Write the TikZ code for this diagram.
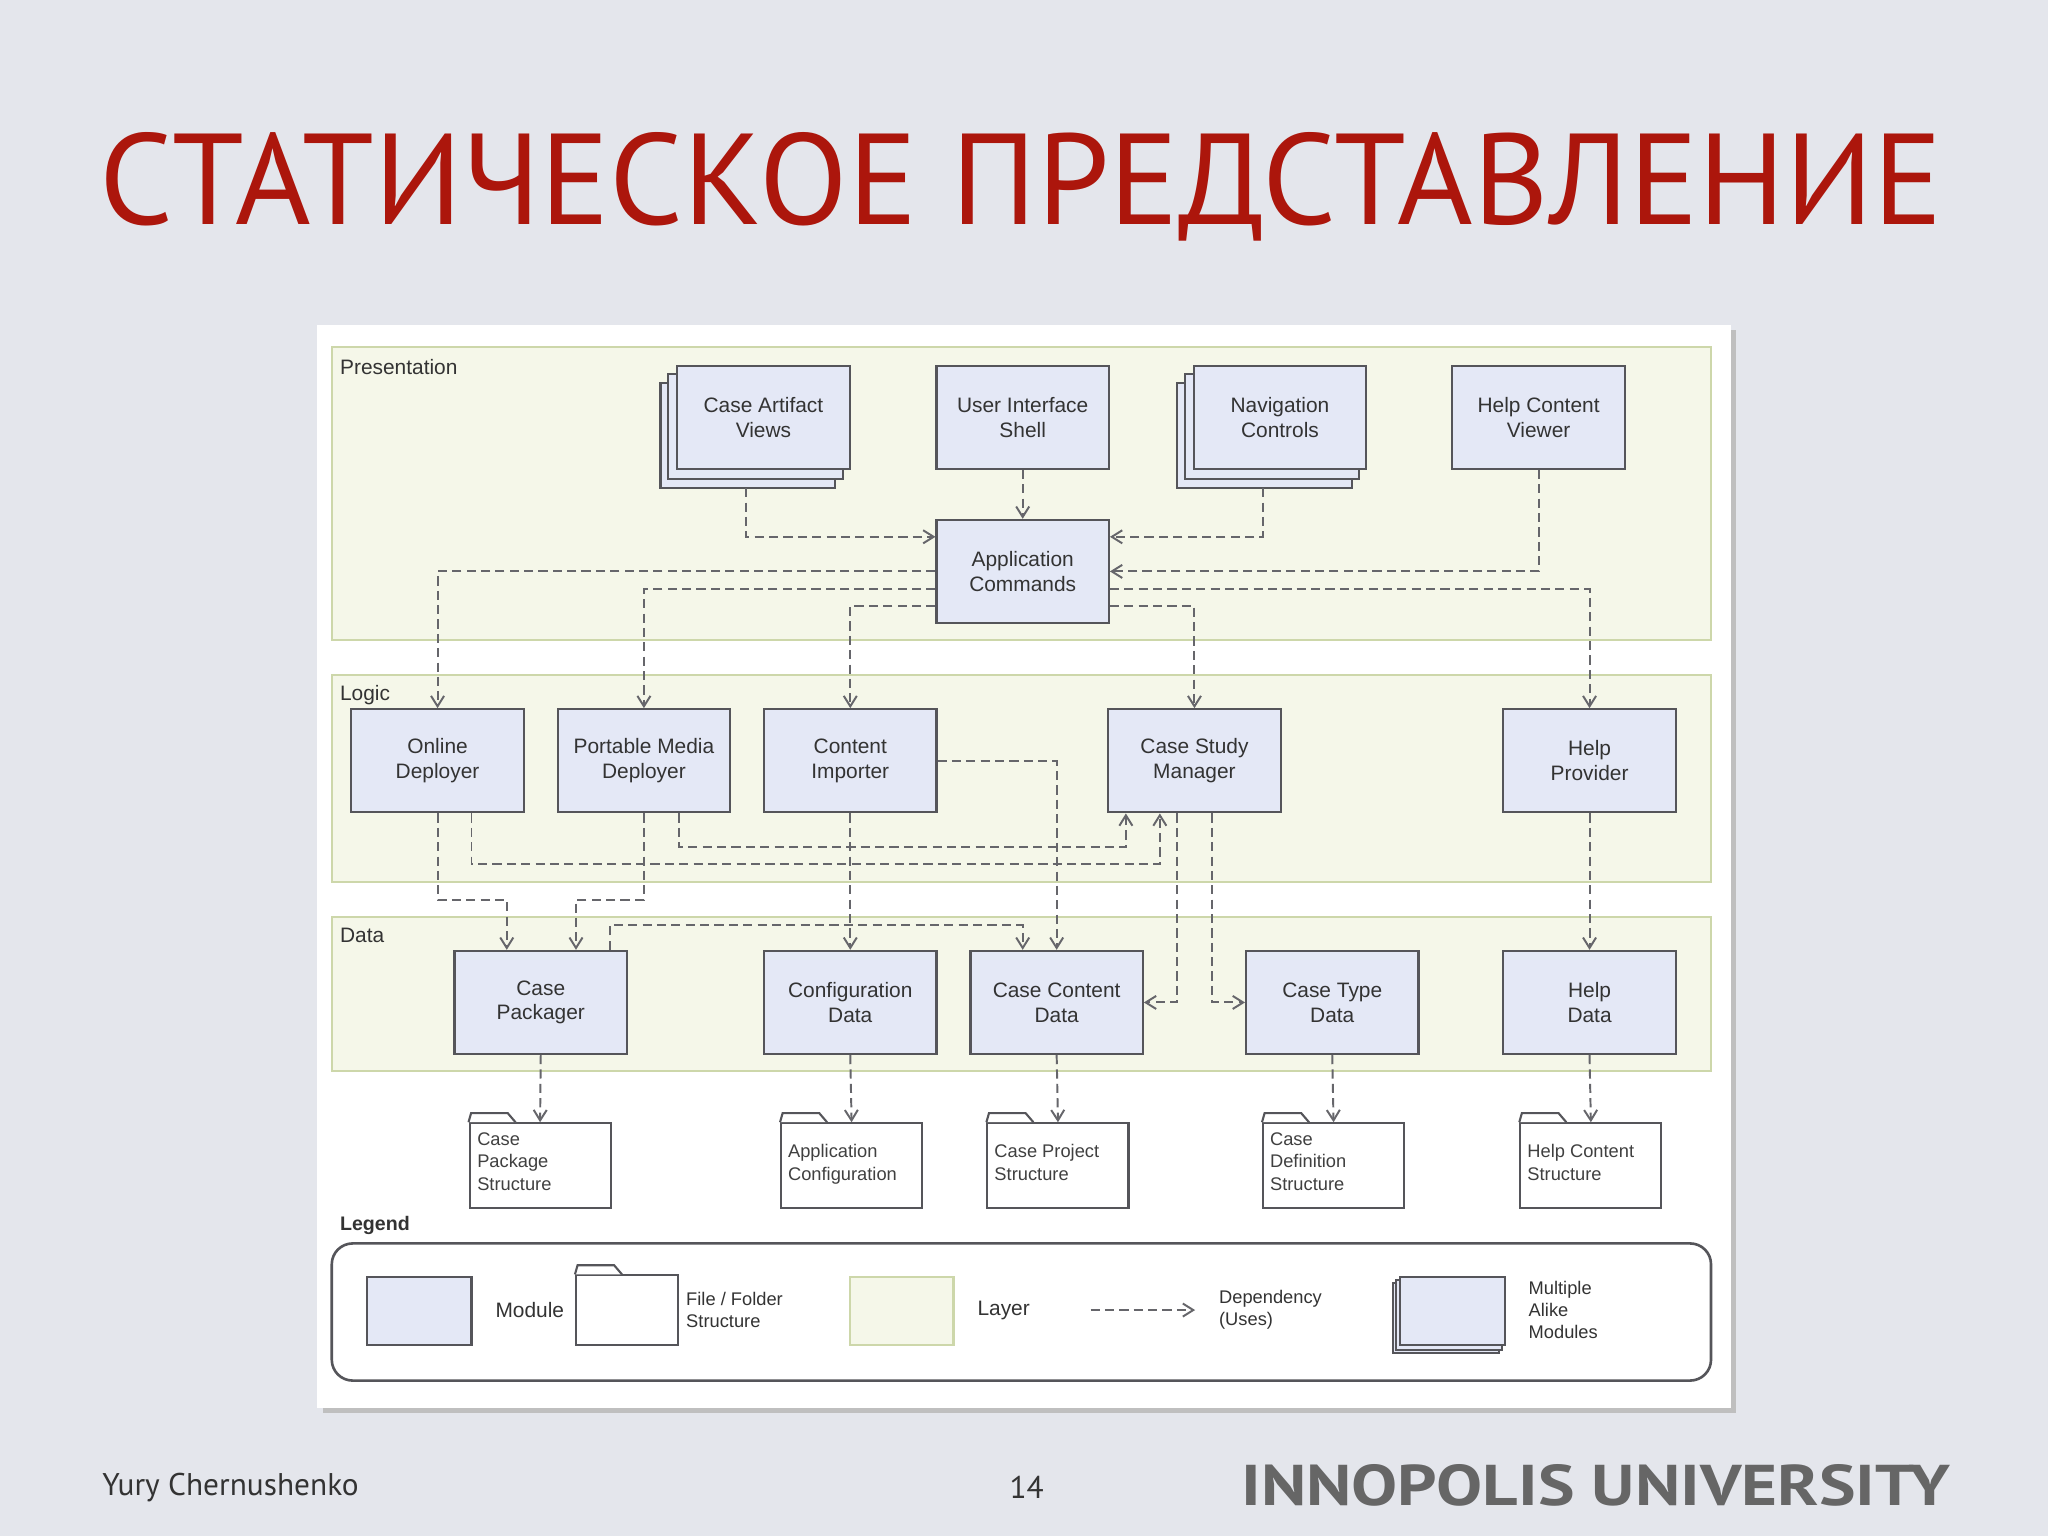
\documentclass[tikz,border=0pt]{standalone}
\usepackage{fontspec}
\setmainfont{Liberation Sans}
\newfontfamily\titlefont{PT Sans}
\usetikzlibrary{arrows.meta,calc}
\definecolor{bg}{RGB}{228,230,236}
\definecolor{modfill}{RGB}{228,232,246}
\definecolor{layfill}{RGB}{245,247,233}
\definecolor{laydraw}{RGB}{205,215,170}
\definecolor{ttl}{RGB}{172,22,12}
\definecolor{edge}{RGB}{85,85,90}
\tikzset{
  module/.style={draw=edge,line width=0.8pt,fill=modfill,minimum width=66pt,minimum height=39.5pt,align=center,font=\fontsize{8}{9.5}\selectfont,text=black!80,inner sep=1pt},
  layer/.style={draw=laydraw,line width=0.8pt,fill=layfill},
  dep/.style={draw=edge!90,line width=0.75pt,dash pattern=on 3.5pt off 2pt,-{Straight Barb[length=4pt,width=5pt]}},
  fold/.style={draw=edge,line width=0.8pt,fill=white,minimum width=54pt,minimum height=32.5pt,inner sep=0pt},
  ftxt/.style={align=left,font=\fontsize{7}{8.5}\selectfont,text=black!75,inner sep=0pt,anchor=north west},
  lbl/.style={font=\fontsize{8}{9}\selectfont,text=black!80,anchor=west,inner sep=0pt}
}
\newcommand{\stackbehind}[1]{%
  \draw[edge,line width=0.8pt,fill=modfill] ([shift={(-6pt,-7pt)}]#1.south west) rectangle ([shift={(-6pt,-7pt)}]#1.north east);
  \draw[edge,line width=0.8pt,fill=modfill] ([shift={(-3pt,-3.5pt)}]#1.south west) rectangle ([shift={(-3pt,-3.5pt)}]#1.north east);}
\newcommand{\stacksmall}[1]{%
  \draw[edge,line width=0.8pt,fill=modfill] ([shift={(-2.5pt,-2.5pt)}]#1.south west) rectangle ([shift={(-2.5pt,-2.5pt)}]#1.north east);
  \draw[edge,line width=0.8pt,fill=modfill] ([shift={(-1.25pt,-1.25pt)}]#1.south west) rectangle ([shift={(-1.25pt,-1.25pt)}]#1.north east);}
\newcommand{\foldtab}[1]{%
  \draw[edge,line width=0.8pt,fill=white] (#1.north west) -- ++(1pt,3.5pt) -- ++(14pt,0) -- ++(3pt,-3.5pt);}
\begin{document}
\begin{tikzpicture}[x=0.5pt,y=-0.5pt]
\useasboundingbox (0,0) rectangle (1568,1176);
\fill[bg] (0,0) rectangle (1568,1176);
\node[anchor=west,text=ttl,inner sep=0pt,font=\titlefont\fontsize{49.5}{52}\selectfont] (title) at (76,143) {СТАТИЧЕСКОЕ ПРЕДСТАВЛЕНИЕ};
% panel
\fill[black!25] (247,253) rectangle (1329,1082);
\fill[white] (243,249) rectangle (1325,1078);
% layers
\draw[layer] (254,266) rectangle (1310,490);
\draw[layer] (254,517) rectangle (1310,675);
\draw[layer] (254,702) rectangle (1310,820);
\node[lbl] (lp) at (260,281) {Presentation};
\node[lbl] (ll) at (260,532) {Logic};
\node[lbl] (ld) at (260,716) {Data};
% presentation
\node[module] (cav) at (584.5,319.5) {};
\stackbehind{cav}
\node[module] (cav) at (584.5,319.5) {Case Artifact\\Views};
\node[module] (ui) at (783,319.5) {User Interface\\Shell};
\node[module] (nav) at (980,319.5) {};
\stackbehind{nav}
\node[module] (nav) at (980,319.5) {Navigation\\Controls};
\node[module] (hcv) at (1178,319.5) {Help Content\\Viewer};
\node[module] (app) at (783,437.5) {Application\\Commands};
% logic
\node[module] (od) at (335,582.5) {Online\\Deployer};
\node[module] (pmd) at (493,582.5) {Portable Media\\Deployer};
\node[module] (ci) at (651,582.5) {Content\\Importer};
\node[module] (csm) at (914.5,582.5) {Case Study\\Manager};
\node[module] (hp) at (1217,582.5) {Help\\Provider};
% data
\node[module] (cp) at (414,767.5) {Case\\Packager};
\node[module] (cd) at (651,767.5) {Configuration\\Data};
\node[module] (ccd) at (809,767.5) {Case Content\\Data};
\node[module] (ctd) at (1020,767.5) {Case Type\\Data};
\node[module] (hd) at (1217,767.5) {Help\\Data};
% folders
\foreach \n/\x in {f1/413.5,f2/652,f3/810,f4/1021,f5/1218}{
  \node[fold] (\n) at (\x,892.5) {};
  \foldtab{\n}
}
\node[ftxt] (t1) at (365,867) {Case\\Package\\Structure};
\node[ftxt] (t2) at (603,876) {Application\\Configuration};
\node[ftxt] (t3) at (761,876) {Case Project\\Structure};
\node[ftxt] (t4) at (972,867) {Case\\Definition\\Structure};
\node[ftxt] (t5) at (1169,876) {Help Content\\Structure};
% connectors
\draw[dep] ([xshift=-6.75pt,yshift=-7pt]cav.south) |- ([yshift=13.25pt]app.west);
\draw[dep] (ui.south) -- (app.north);
\draw[dep] ([xshift=-6.5pt,yshift=-7pt]nav.south) |- ([yshift=13.25pt]app.east);
\draw[dep] (hcv.south) |- (app.east);
\draw[dep] (app.west) -| (od.north);
\draw[dep] ([yshift=-6.75pt]app.west) -| (pmd.north);
\draw[dep] ([yshift=-13.25pt]app.west) -| (ci.north);
\draw[dep] ([yshift=-13.25pt]app.east) -| (csm.north);
\draw[dep] ([yshift=-6.75pt]app.east) -| (hp.north);
\draw[dep] (ci.east) -| (ccd.north);
\draw[dep] ([xshift=13.5pt]pmd.south) -- ++(0,-13pt) -| ([xshift=-26.25pt]csm.south);
\draw[dep] ([xshift=13pt]od.south) -- ++(0,-19.5pt) -| ([xshift=-13.25pt]csm.south);
\draw[dep] (od.south) -- ++(0,-33pt) -| ([xshift=-13pt]cp.north);
\draw[dep] (pmd.south) -- ++(0,-33pt) -| ([xshift=13.5pt]cp.north);
\draw[dep] (ci.south) -- (cd.north);
\draw[dep] ([xshift=26.5pt]cp.north) -- ++(0,9.5pt) -| ([xshift=-13pt]ccd.north);
\draw[dep] ([xshift=-6.75pt]csm.south) |- (ccd.east);
\draw[dep] ([xshift=6.75pt]csm.south) |- (ctd.west);
\draw[dep] (hp.south) -- (hd.north);
\draw[dep] (cp.south) -- (f1.north);
\draw[dep] (cd.south) -- (f2.north);
\draw[dep] (ccd.south) -- (f3.north);
\draw[dep] (ctd.south) -- (f4.north);
\draw[dep] (hd.south) -- (f5.north);
% legend
\node[lbl,font=\bfseries\fontsize{7.5}{9}\selectfont] (lg) at (260,938) {Legend};
\draw[edge,line width=1pt,rounded corners=8pt] (254,952) rectangle (1310,1057);
\node[module,minimum width=40pt,minimum height=26pt] (lm) at (321,1004) {};
\node[lbl] (lmt) at (379,1003) {Module};
\node[fold,minimum width=39pt,minimum height=26.5pt] (lf) at (480,1003) {};
\foldtab{lf}
\node[lbl,align=left,font=\fontsize{7}{8.5}\selectfont] (lft) at (525,1003) {File / Folder\\Structure};
\draw[layer] (651,978) rectangle (730,1030);
\node[lbl] (lyt) at (748,1003) {Layer};
\coordinate (da) at (835,1003);
\coordinate (db) at (915,1003);
\draw[dep] (da) -- (db);
\node[lbl,align=left,font=\fontsize{7}{8.5}\selectfont] (ldt) at (933,1003) {Dependency\\(Uses)};
\node[module,minimum width=40pt,minimum height=26pt] (lmm) at (1112,1004) {};
\stacksmall{lmm}
\node[module,minimum width=40pt,minimum height=26pt] (lmm) at (1112,1004) {};
\node[lbl,align=left,font=\fontsize{7}{8.5}\selectfont] (lmmt) at (1170,1003) {Multiple\\Alike\\Modules};
% footer
\node[anchor=west,inner sep=0pt,text=black!80,font=\titlefont\fontsize{12}{14}\selectfont] (auth) at (78,1139) {Yury Chernushenko};
\node[inner sep=0pt,text=black!80,font=\titlefont\fontsize{12}{14}\selectfont] (pg) at (786,1139) {14};
\node[anchor=west,inner sep=0pt,xscale=1.2,text=black!60,font=\titlefont\bfseries\fontsize{22}{24}\selectfont] (logo) at (950,1137) {INNOPOLIS UNIVERSITY};
\end{tikzpicture}
\end{document}
